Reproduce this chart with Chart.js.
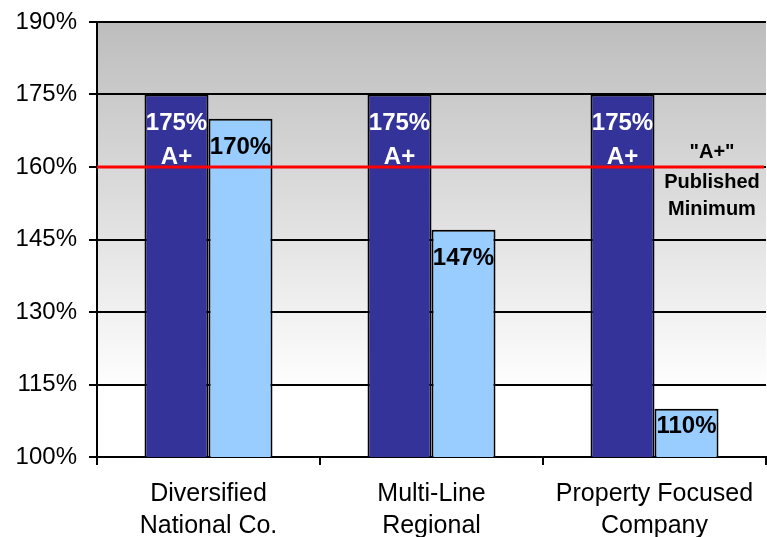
<!DOCTYPE html>
<html>
<head>
<meta charset="utf-8">
<script src="https://cdn.jsdelivr.net/npm/chart.js@4/dist/chart.umd.min.js"></script>
<style>
    html, body { margin: 0; padding: 0; background: #fff; }
    #wrap { width: 767px; height: 537px; position: relative; }
</style>
</head>
<body>
<div id="wrap"><canvas id="chart" width="767" height="537"></canvas></div>
<script>
var categories = [['Diversified', 'National Co.'], ['Multi-Line', 'Regional'], ['Property Focused', 'Company']];
var requiredValues = [175, 175, 175];
var actualValues = [170, 147, 110];
var requiredLabel = ['175%', 'A+'];
var minimumValue = 160;
var minimumText = ['"A+"', 'Published', 'Minimum'];
var yTicks = [100, 115, 130, 145, 160, 175, 190];

var FONT = '"Liberation Sans", Arial, sans-serif';

var backgroundPlugin = {
    id: 'plotBackground',
    beforeDraw: function (chart) {
        var a = chart.chartArea;
        var ctx = chart.ctx;
        var g = ctx.createLinearGradient(0, a.top, 0, a.bottom);
        g.addColorStop(0, '#bdbdbd');
        g.addColorStop(0.85, '#ffffff');
        g.addColorStop(1, '#ffffff');
        ctx.save();
        ctx.fillStyle = g;
        ctx.fillRect(a.left, a.top, a.right - a.left, a.bottom - a.top);
        ctx.restore();
    }
};

var labelPlugin = {
    id: 'barLabels',
    afterDatasetsDraw: function (chart) {
        var ctx = chart.ctx;
        var a = chart.chartArea;
        var y = chart.scales.y;
        var bottom = y.getPixelForValue(y.min);
        ctx.save();
        ctx.font = 'bold 24px ' + FONT;
        ctx.textAlign = 'center';
        ctx.textBaseline = 'middle';

        chart.getDatasetMeta(0).data.forEach(function (bar) {
            ctx.fillStyle = '#ffffff';
            ctx.fillText(requiredLabel[0], bar.x, bar.y + 29);
            ctx.fillText(requiredLabel[1], bar.x, bar.y + 63);
        });

        chart.getDatasetMeta(1).data.forEach(function (bar, i) {
            var h = bottom - bar.y;
            var off = Math.min(29, h / 2 - 6);
            ctx.fillStyle = '#000000';
            ctx.fillText(actualValues[i] + '%', bar.x, bar.y + off);
        });

        // published minimum line
        var py = y.getPixelForValue(minimumValue);
        ctx.strokeStyle = '#ff0000';
        ctx.lineWidth = 3;
        ctx.beginPath();
        ctx.moveTo(a.left, py);
        ctx.lineTo(a.right - 2, py);
        ctx.stroke();

        ctx.fillStyle = '#000000';
        ctx.font = 'bold 20px ' + FONT;
        ctx.fillText(minimumText[0], 712, py - 15);
        ctx.fillText(minimumText[1], 712, py + 15);
        ctx.fillText(minimumText[2], 712, py + 42);
        ctx.restore();
    }
};

new Chart(document.getElementById('chart').getContext('2d'), {
    type: 'bar',
    data: {
        labels: categories,
        datasets: [
            {
                label: 'Required',
                data: requiredValues,
                backgroundColor: '#333399',
                borderColor: '#000000',
                borderWidth: 2,
                borderSkipped: false,
                categoryPercentage: 0.574,
                barPercentage: 1
            },
            {
                label: 'Actual',
                data: actualValues,
                backgroundColor: '#99ccff',
                borderColor: '#000000',
                borderWidth: 2,
                borderSkipped: false,
                categoryPercentage: 0.574,
                barPercentage: 1
            }
        ]
    },
    options: {
        responsive: false,
        animation: false,
        layout: { padding: { top: 22, right: 1, left: 0, bottom: 0 } },
        plugins: {
            legend: { display: false },
            tooltip: { enabled: false }
        },
        scales: {
            x: {
                offset: true,
                grid: {
                    offset: true,
                    drawOnChartArea: false,
                    color: '#000000',
                    lineWidth: 2,
                    tickLength: 8
                },
                border: { color: '#000000', width: 2 },
                ticks: {
                    color: '#000000',
                    font: { family: FONT, size: 25, lineHeight: 1.28 },
                    padding: 13,
                    maxRotation: 0,
                    autoSkip: false
                },
                afterFit: function (scale) { scale.height = 80; }
            },
            y: {
                min: 100,
                max: 190,
                afterBuildTicks: function (scale) {
                    scale.ticks = yTicks.map(function (v) { return { value: v }; });
                },
                grid: {
                    color: '#000000',
                    lineWidth: 2,
                    tickLength: 8
                },
                border: { color: '#000000', width: 2 },
                ticks: {
                    color: '#000000',
                    font: { family: FONT, size: 24 },
                    padding: 12,
                    callback: function (v) { return v + '%'; }
                },
                afterFit: function (scale) {
                    scale.width = 97;
                    scale.paddingTop = 0;
                    scale.paddingBottom = 0;
                }
            }
        }
    },
    plugins: [backgroundPlugin, labelPlugin]
});
</script>
</body>
</html>
